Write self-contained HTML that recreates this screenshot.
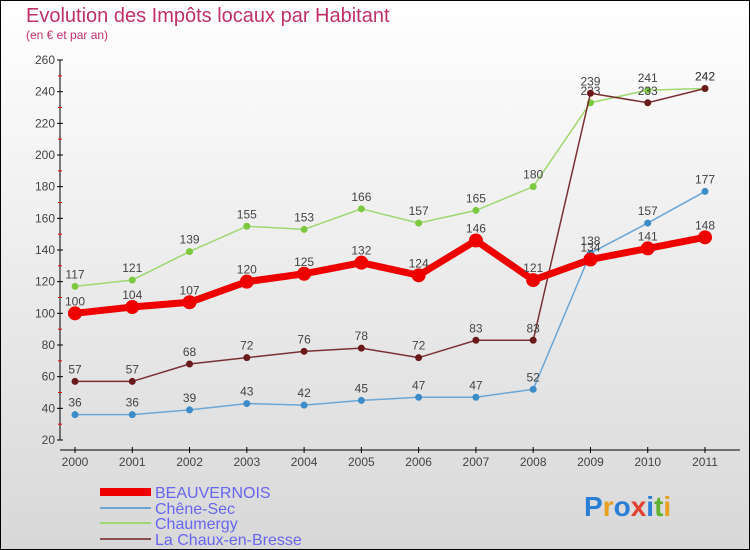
<!DOCTYPE html>
<html><head><meta charset="utf-8"><style>
body{margin:0;width:750px;height:550px;overflow:hidden;font-family:"Liberation Sans",sans-serif}
svg{display:block}
</style></head><body>
<svg width="750" height="550">
<defs><linearGradient id="bg" x1="0" y1="0" x2="0" y2="1"><stop offset="0" stop-color="#ffffff"/><stop offset="1" stop-color="#d8d8d8"/></linearGradient></defs>
<rect x="0.5" y="0.5" width="749" height="549" fill="url(#bg)" stroke="#000"/>
<text x="26" y="22" font-size="20" fill="#c0306a">Evolution des Impôts locaux par Habitant</text>
<text x="26" y="39" font-size="12" fill="#c0306a">(en € et par an)</text>
<g id="axes"></g>
<g id="series"></g>
<g id="legend"></g>
<text x="584" y="516" font-size="28" font-weight="bold"><tspan fill="#2a7fd4">P</tspan><tspan fill="#e8a020">r</tspan><tspan fill="#2a7fd4">o</tspan><tspan fill="#e04030">x</tspan><tspan fill="#2a7fd4">i</tspan><tspan fill="#60b030">t</tspan><tspan fill="#e8a020">i</tspan></text>
</svg>
<script>
const years=["2000","2001","2002","2003","2004","2005","2006","2007","2008","2009","2010","2011"];
const yTicks=[20,40,60,80,100,120,140,160,180,200,220,240,260];
const beauvernois=[100,104,107,120,125,132,124,146,121,134,141,148];
const cheneSec=[36,36,39,43,42,45,47,47,52,138,157,177];
const chaumergy=[117,121,139,155,153,166,157,165,180,233,241,242];
const chaux=[57,57,68,72,76,78,72,83,83,239,233,242];
const NS="http://www.w3.org/2000/svg";
const X=i=>75+i*(630/11);
const Y=v=>440-(v-20)*(380/240);
function mk(tag,attrs,parent,txt){const e=document.createElementNS(NS,tag);for(const k in attrs)e.setAttribute(k,attrs[k]);if(txt!==undefined)e.textContent=txt;parent.appendChild(e);return e;}
const ax=document.getElementById('axes');
let e=mk('line',{x1:60,y1:60,x2:60,y2:440,stroke:'#000'},ax);


e=mk('line',{x1:60,y1:450,x2:740,y2:450,stroke:'#000'},ax);


yTicks.forEach((t,i)=>{
 mk('line',{x1:57,y1:Y(t),x2:63,y2:Y(t),stroke:'#000'},ax);
 if(i<yTicks.length-1) mk('line',{x1:58,y1:Y(t+10),x2:62,y2:Y(t+10),stroke:'#e00'},ax);
 const l=mk('text',{x:55,y:Y(t)+4,'font-size':12,'text-anchor':'end',fill:'#444'},ax,t);
 
 
});
years.forEach((y,i)=>{
 mk('line',{x1:X(i),y1:447,x2:X(i),y2:453,stroke:'#000'},ax);
 const l=mk('text',{x:X(i),y:466,'font-size':12,'text-anchor':'middle',fill:'#444'},ax,y);
 
 
});
const sg=document.getElementById('series');
function series(data,color,w,r,name,dot){
 const g=mk('g',{},sg);
 
 
 mk('polyline',{points:data.map((v,i)=>X(i)+','+Y(v)).join(' '),fill:'none',stroke:color,'stroke-width':w},g);
 data.forEach((v,i)=>{
  const c=mk('circle',{cx:X(i),cy:Y(v),r:r,fill:dot,stroke:'none'},g);
  
  
  const t=mk('text',{x:X(i),y:Y(v)-8,'font-size':12,'text-anchor':'middle',fill:'#444'},g,v);
  
  
 });
}
series(cheneSec,'#6aa6d6',1.5,3.5,'chene-sec-series','#3c8cc8');
series(chaumergy,'#9ed870',1.5,3.5,'chaumergy-series','#7cc840');
series(chaux,'#7a3030',1.5,3.5,'la-chaux-series','#6a1a1a');
series(beauvernois,'#ee0000',7,7,'beauvernois-series','#ee0000');
const lg=document.getElementById('legend');
[['BEAUVERNOIS','#ee0000',8,492],['Chêne-Sec','#6aa6d6',2,508],['Chaumergy','#9ed870',2,523],['La Chaux-en-Bresse','#8a5050',2,539]].forEach(([n,c,w,y])=>{
 const g=mk('g',{},lg);
 
 
 mk('line',{x1:100,y1:y,x2:151,y2:y,stroke:c,'stroke-width':w},g);
 mk('text',{x:155,y:y+6,'font-size':16,fill:'#6666ee'},g,n);
});
</script>
</body></html>
